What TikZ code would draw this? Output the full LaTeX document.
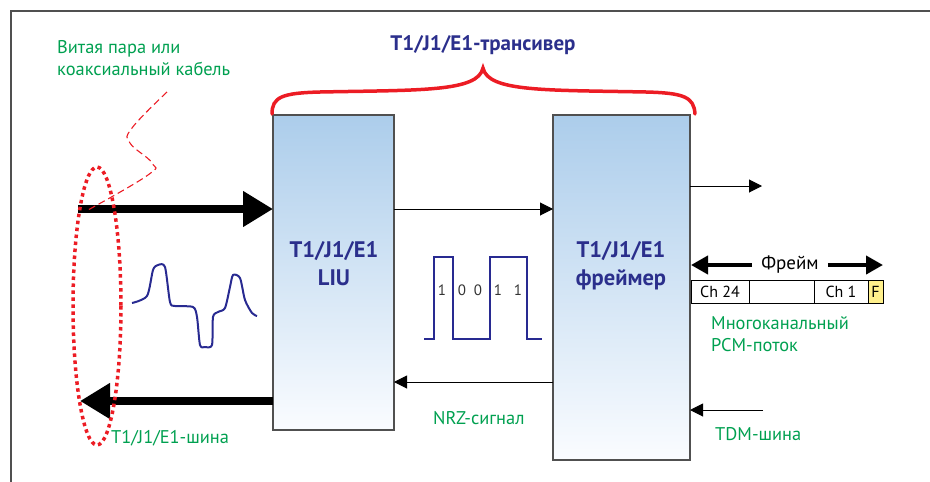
\documentclass[tikz,border=0pt]{standalone}
\definecolor{titleblue}{RGB}{43,47,140}
\definecolor{waveblue}{RGB}{40,42,145}
\definecolor{notegreen}{RGB}{0,160,80}
\definecolor{cablered}{RGB}{236,28,36}
\definecolor{edgegray}{RGB}{80,80,80}
\definecolor{boxblue}{RGB}{172,205,235}
\definecolor{boxwhite}{RGB}{250,252,255}
\definecolor{fyellow}{RGB}{255,240,140}
\usepackage{fontspec}
\setmainfont{PT Sans}
\usepackage{tikz}
\usetikzlibrary{positioning,arrows.meta}

\begin{document}
\begin{tikzpicture}[x=1pt,y=-1pt,
  block/.style={draw=edgegray,line width=1.4pt,top color=boxblue,bottom color=boxwhite,inner sep=0pt,outer sep=0pt,anchor=north west},
  blocktext/.style={text=titleblue,font=\fontsize{22.5}{28}\selectfont\bfseries,align=center},
  note/.style={text=notegreen,font=\fontsize{18.4}{21.5}\selectfont,align=left,anchor=west,inner sep=0pt},
  cell/.style={draw=black,line width=0.9pt,minimum height=23pt,inner sep=0pt,outer sep=0pt,font=\fontsize{16}{16}\selectfont},
  bit/.style={text=black!80,font=\fontsize{15}{15}\selectfont,inner sep=0pt},
  cablearrow/.style={line width=8pt,-{Triangle[length=30pt,width=34pt]}},
  sigarrow/.style={line width=1pt,-{Triangle[length=13pt,width=13pt]}},
  framearrow/.style={line width=4pt,-{Triangle[length=17pt,width=18pt]}}]
\useasboundingbox (0,0) rectangle (930,482);
\draw[edgegray,line width=2pt] (11,482) -- (11,11) -- (930,11);

\node[block,minimum width=121pt,minimum height=315pt] (liu) at (273,115) {};
\node[block,minimum width=137pt,minimum height=345pt] (framer) at (553,115) {};
\node[blocktext] (liulabel) at (334,264) {T1/J1/E1\\LIU};
\node[blocktext] (framerlabel) at (621,266) {T1/J1/E1\\фреймер};

\node[blocktext,font=\fontsize{21}{24}\selectfont\bfseries] (title) at (483,45) {T1/J1/E1-трансивер};
\draw[cablered,line width=3.5pt,line cap=round]
  (272,114) .. controls (272,97) and (282,93) .. (320,92)
  .. controls (420,90) and (478,92) .. (483,68)
  .. controls (488,92) and (546,90) .. (646,92)
  .. controls (684,93) and (694,97) .. (695,114);

\coordinate (cablein) at (78,209);
\coordinate (busout) at (80,401);
\coordinate (nrzy) at (0,382);
\coordinate (outend) at (762,186);
\coordinate (tdmstart) at (763,410);
\draw[cablearrow] (cablein) -- (liu.west |- cablein);
\draw[cablearrow] (liu.west |- busout) -- (busout);
\draw[sigarrow] (liu.east |- cablein) -- (framer.west |- cablein);
\draw[sigarrow] (framer.west |- nrzy) -- (liu.east |- nrzy);
\draw[sigarrow] (framer.east |- outend) -- (outend);
\draw[sigarrow] (tdmstart) -- (framer.east |- tdmstart);

\node[note] (cablenote) at (57,58) {Витая пара или\\коаксиальный кабель};
\draw[cablered,line width=1.1pt,dash pattern=on 7pt off 4pt]
  plot[smooth,tension=0.7] coordinates {(167,92) (132,128) (130,143) (152,163) (148,175) (88,210)};
\draw[cablered,line width=3.5pt,dash pattern=on 3.5pt off 3.5pt] (97,306) ellipse [x radius=24,y radius=139];
\node[note] (busnote) at (111,438) {T1/J1/E1-шина};

\draw[waveblue,line width=2pt,line join=round] plot[smooth,tension=0.45] coordinates {
  (132,303) (147,296) (153,270) (158,265) (165,267) (170,302) (175,306) (193,307)
  (197,317) (200,345) (205,347) (212,345) (213,317) (218,312) (225,308) (230,287)
  (233,275) (240,278) (245,300) (252,313) (257,316)};

\draw[waveblue,line width=1.8pt] (424,339) -- (434,339) -- (434,257) -- (453,257) -- (453,339)
  -- (490,339) -- (490,257) -- (527,257) -- (527,339) -- (542,339);
\foreach \x/\b [count=\i] in {442/1,462/0,478/0,498/1,518/1}
  \node[bit] (bit\i) at (\x,290) {\b};
\node[note] (nrznote) at (433,418) {NRZ-сигнал};

\node[cell,minimum width=58pt,anchor=north west] (ch24) at (691,280) {Ch 24};
\node[cell,minimum width=65pt,right=0pt of ch24] (chgap) {};
\node[cell,minimum width=54pt,right=0pt of chgap] (ch1) {Ch 1};
\node[cell,minimum width=15pt,fill=fyellow,right=0pt of ch1] (fbit) {F};
\node[font=\fontsize{19}{19}\selectfont,inner xsep=9pt] (frametext) at (790,265) {Фрейм};
\draw[framearrow] (frametext) -- (ch24.west |- frametext);
\draw[framearrow] (frametext) -- (fbit.east |- frametext);
\node[note] (pcmnote) at (711,334) {Многоканальный\\PCM-поток};
\node[note] (tdmnote) at (715,434) {TDM-шина};
\end{tikzpicture}
\end{document}
